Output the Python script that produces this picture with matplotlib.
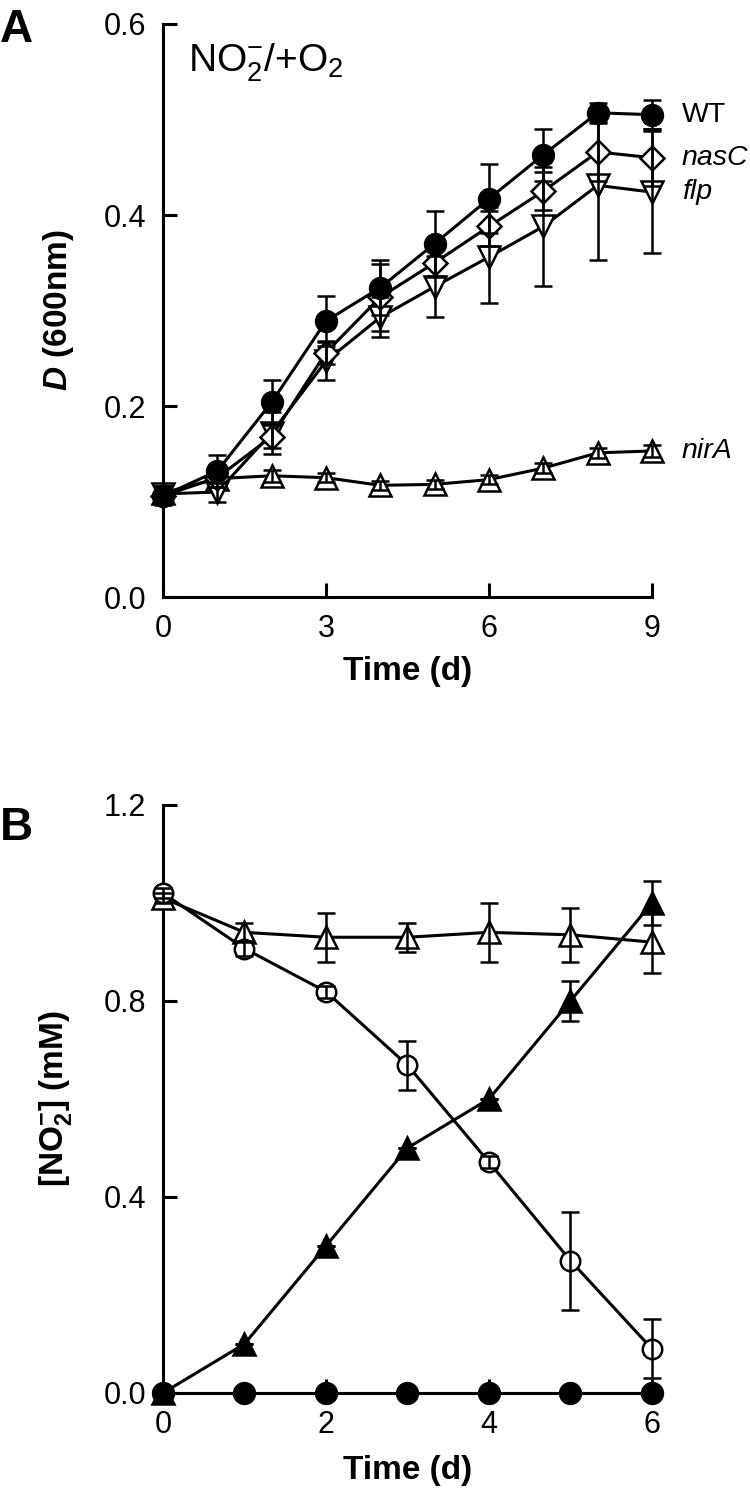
import matplotlib
matplotlib.use("Agg")
import matplotlib.pyplot as plt
from matplotlib import font_manager as fm

names = {f.name for f in fm.fontManager.ttflist}
FONT = "Liberation Sans Narrow" if "Liberation Sans Narrow" in names else "Liberation Sans"
plt.rcParams['font.family'] = [FONT, 'DejaVu Sans']
plt.rcParams['mathtext.fontset'] = 'custom'
plt.rcParams['mathtext.rm'] = FONT
plt.rcParams['mathtext.it'] = FONT + ':italic'
plt.rcParams['mathtext.bf'] = FONT + ':bold'
plt.rcParams['mathtext.bfit'] = FONT + ':italic:bold'

# ---------- Panel A data ----------
days_a = [0, 1, 2, 3, 4, 5, 6, 7, 8, 9]
wt = [0.106, 0.132, 0.204, 0.289, 0.324, 0.370, 0.417, 0.463, 0.507, 0.505]
wt_err = [0.010, 0.017, 0.023, 0.026, 0.029, 0.034, 0.036, 0.027, 0.010, 0.015]
nasc = [0.106, 0.125, 0.168, 0.256, 0.314, 0.350, 0.388, 0.425, 0.466, 0.460]
nasc_err = [0.008, 0.010, 0.012, 0.012, 0.035, 0.015, 0.020, 0.020, 0.030, 0.030]
flp = [0.108, 0.110, 0.172, 0.247, 0.293, 0.325, 0.356, 0.388, 0.431, 0.424]
flp_err = [0.008, 0.010, 0.022, 0.020, 0.021, 0.032, 0.048, 0.062, 0.078, 0.064]
nira = [0.109, 0.124, 0.127, 0.125, 0.117, 0.118, 0.123, 0.135, 0.151, 0.153]
nira_err = [0.005, 0.005, 0.006, 0.005, 0.005, 0.005, 0.005, 0.005, 0.005, 0.006]
labels_a = ["WT", "nasC", "flp", "nirA"]

# ---------- Panel B data ----------
days_b = [0, 1, 2, 3, 4, 5, 6]
open_circ = [1.02, 0.907, 0.819, 0.669, 0.471, 0.270, 0.090]
open_circ_err = [0.01, 0.015, 0.012, 0.050, 0.012, 0.100, 0.060]
open_tri = [1.01, 0.940, 0.930, 0.930, 0.940, 0.935, 0.920]
open_tri_err = [0.01, 0.020, 0.050, 0.030, 0.060, 0.055, 0.062]
filled_tri = [0.0, 0.10, 0.30, 0.50, 0.60, 0.80, 1.00]
filled_tri_err = [0.0, 0.0, 0.0, 0.0, 0.0, 0.040, 0.045]
filled_circ = [0.0, 0.0, 0.0, 0.0, 0.0, 0.0, 0.0]
filled_circ_err = [0.0, 0.0, 0.0, 0.0, 0.0, 0.0, 0.0]

fig = plt.figure(figsize=(7.5, 14.89), dpi=100)
axA = fig.add_axes([0.2173, 0.599, 0.652, 0.3849])
axB = fig.add_axes([0.2173, 0.0645, 0.652, 0.3949])

LW = 2.2
MEW = 1.8
CAP = 6.7
ELW = 1.8

def series(ax, x, y, e, marker, ms, filled):
    fc = 'black' if filled else 'white'
    ax.plot(x, y, '-', color='black', lw=LW, marker=marker, ms=ms,
            mfc=fc, mec='black', mew=MEW, zorder=3, clip_on=False)
    ax.errorbar(x, y, yerr=e, fmt='none', ecolor='black', elinewidth=ELW,
                capsize=CAP, capthick=ELW, zorder=4, clip_on=False)

series(axA, days_a, nira, nira_err, '^', 16, False)
series(axA, days_a, flp, flp_err, 'v', 16, False)
series(axA, days_a, nasc, nasc_err, 'D', 12.5, False)
series(axA, days_a, wt, wt_err, 'o', 15, True)

series(axB, days_b, open_tri, open_tri_err, '^', 16, False)
series(axB, days_b, open_circ, open_circ_err, 'o', 14, False)
series(axB, days_b, filled_tri, filled_tri_err, '^', 16, True)
series(axB, days_b, filled_circ, filled_circ_err, 'o', 15, True)

for ax in (axA, axB):
    for s in ('top', 'right'):
        ax.spines[s].set_visible(False)
    for s in ('left', 'bottom'):
        ax.spines[s].set_linewidth(2.2)
    ax.tick_params(direction='in', length=10, width=2.2, labelsize=22)
    ax.tick_params(axis='x', pad=12)
    ax.tick_params(axis='y', pad=12)

axA.set_xlim(0, 9)
axA.set_ylim(0, 0.6)
axA.set_xticks([0, 3, 6, 9])
axA.set_yticks([0.0, 0.2, 0.4, 0.6])
axA.set_yticklabels(['0.0', '0.2', '0.4', '0.6'])
axA.set_xlabel('Time (d)', fontsize=24, fontweight='bold')
axA.set_ylabel(r'$\mathbfit{D}$ (600nm)', fontsize=24, fontweight='bold')
axA.xaxis.set_label_coords(0.5, -0.103)
axA.yaxis.set_label_coords(-0.178, 0.5)

axB.set_xlim(0, 6)
axB.set_ylim(0, 1.2)
axB.set_xticks([0, 2, 4, 6])
axB.set_yticks([0.0, 0.4, 0.8, 1.2])
axB.set_yticklabels(['0.0', '0.4', '0.8', '1.2'])
axB.set_xlabel('Time (d)', fontsize=24, fontweight='bold')
axB.set_ylabel(r'[NO$_\mathbf{2}^{\mathbf{-}}$] (mM)', fontsize=24,
               fontweight='bold')
axB.xaxis.set_label_coords(0.5, -0.105)
axB.yaxis.set_label_coords(-0.182, 0.5)

# series labels
ys = [wt[-1], nasc[-1], flp[-1], nira[-1]]
for lab, yv in zip(labels_a, ys):
    style = 'normal' if lab == 'WT' else 'italic'
    axA.text(9.55, yv, lab, fontsize=20.5, style=style, va='center', ha='left')

axA.text(0.46, 0.55, r'NO$_2^{-}$/+O$_2$', fontsize=28, va='baseline', ha='left')

fig.text(0.0, 1 - 42 / 1489, 'A', fontsize=33, fontweight='bold', va='baseline', ha='left')
fig.text(0.0, 1 - 840 / 1489, 'B', fontsize=33, fontweight='bold', va='baseline', ha='left')

fig.savefig('out.png', dpi=100)
